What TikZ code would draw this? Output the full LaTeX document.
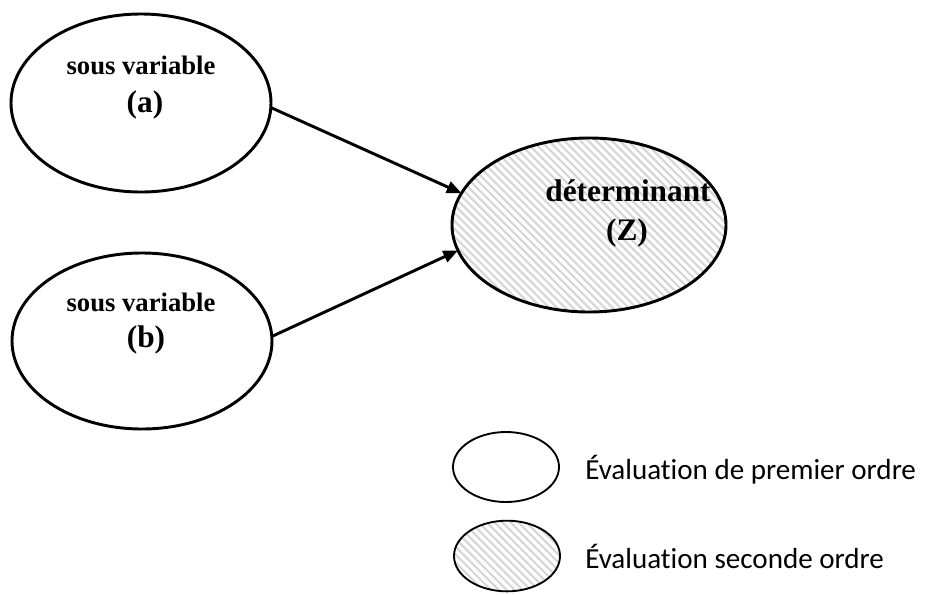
\documentclass[tikz,border=0pt]{standalone}
\usepackage{fontspec}
\setmainfont{Liberation Serif}
\newfontfamily\legfont[Ligatures={NoCommon}]{Carlito}
\usetikzlibrary{shapes.geometric,arrows.meta,patterns.meta}
\tikzset{
  bigell/.style={ellipse, draw, line width=2.2pt, inner sep=0pt, outer sep=0pt, fill=white},
  hatched/.style={preaction={fill=black!16}, pattern={Lines[angle=-45,distance=4.2pt,line width=2.4pt]}, pattern color=white},
  legell/.style={ellipse, draw, line width=1.4pt, inner sep=0pt, outer sep=0pt},
  conn/.style={line width=2.2pt, -{Triangle[length=11pt,width=9pt]}},
  small/.style={font=\fontsize{20}{24}\selectfont\bfseries, anchor=base, inner sep=0pt},
  big/.style={font=\fontsize{23.5}{28}\selectfont\bfseries, anchor=base, inner sep=0pt},
  legtxt/.style={font=\legfont\fontsize{21.8}{26}\selectfont, anchor=base west, inner sep=0pt}
}
\begin{document}
\begin{tikzpicture}[x=0.75pt,y=-0.75pt]
\useasboundingbox (0,0) rectangle (928,594);
% main ellipses
\node[bigell, minimum width=195pt, minimum height=133.5pt] (a) at (141,103) {};
\node[bigell, minimum width=195pt, minimum height=132pt] (b) at (142,341) {};
\node[bigell, hatched, minimum width=205.5pt, minimum height=130.5pt] (z) at (589,225) {};
% labels
\node[small] (ta1) at (141,74) {sous variable};
\node[big] (ta2) at (145,112) {(a)};
\node[small] (tb1) at (141,311) {sous variable};
\node[big] (tb2) at (146,347) {(b)};
\node[big] (tz1) at (628,201) {déterminant};
\node[big] (tz2) at (627,240) {(Z)};
% connectors
\draw[conn] (a.-2) -- (z.166);
\draw[conn] (b.2) -- (z.191);
% legend
\node[legell, minimum width=79.5pt, minimum height=52.5pt] (l1) at (506,467) {};
\node[legell, hatched, minimum width=79.5pt, minimum height=53pt] (l2) at (507,556) {};
\node[legtxt] (lt1) at (585,479) {Évaluation de premier ordre};
\node[legtxt] (lt2) at (585,568) {Évaluation seconde ordre};
\end{tikzpicture}
\end{document}
